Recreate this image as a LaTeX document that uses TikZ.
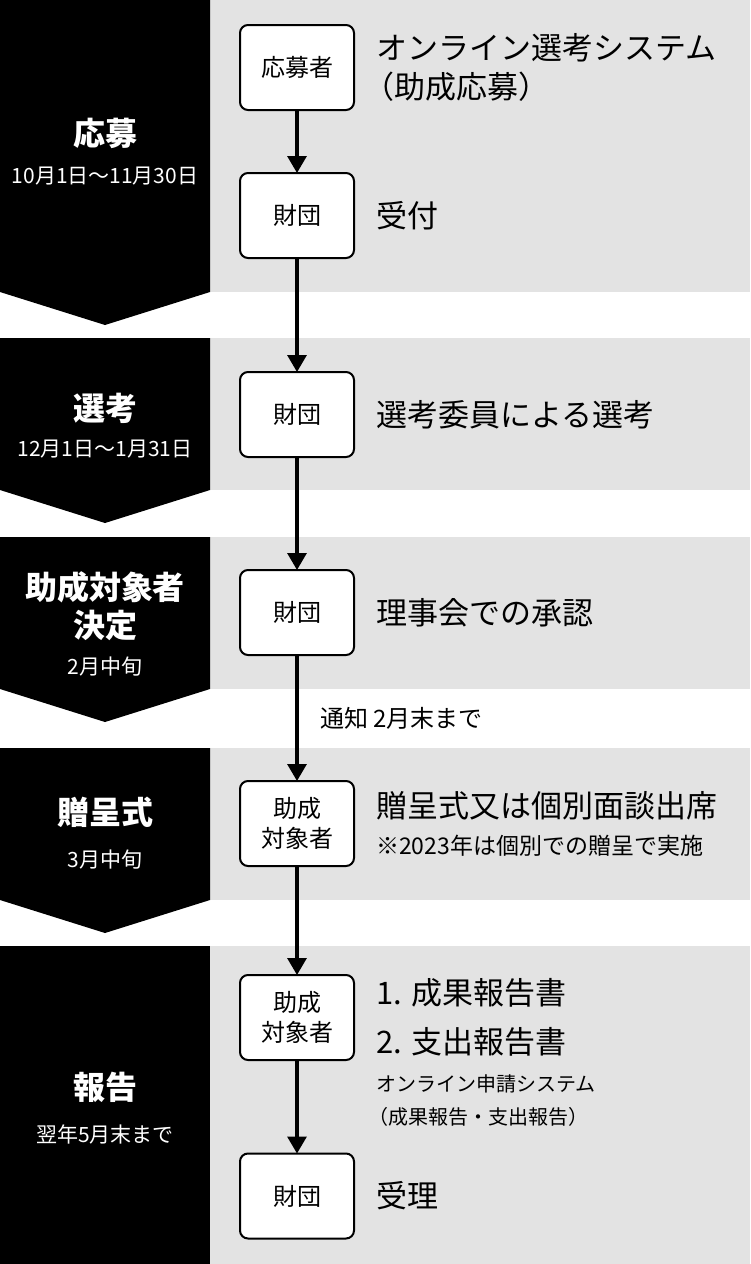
\documentclass[tikz,border=0pt]{standalone}
\usepackage{fontspec}
\usepackage{tikz}
\usepackage{xcolor}
\usetikzlibrary{positioning}
\usetikzlibrary{arrows.meta}
\newfontfamily\jpfont{Noto Sans CJK JP}
\definecolor{bandcolor}{RGB}{227, 227, 227}
\definecolor{stagecolor}{RGB}{0, 0, 0}
\tikzstyle{actor} = [
    draw,
    rounded corners=8pt,
    fill=white,
    line width=2pt,
    minimum width=114pt,
    minimum height=85pt,
    align=center,
    inner sep=0pt,
    outer sep=0pt,
    font=\jpfont\fontsize{24}{30}\selectfont
]
\tikzstyle{flow} = [-{Triangle[length=17pt, width=19pt]}, line width=3.2pt, black]
\tikzstyle{stage} = [text=white, align=center, inner sep=0pt, font=\jpfont\bfseries\fontsize{32}{38}\selectfont]
\tikzstyle{period} = [text=white, inner sep=0pt, font=\jpfont\fontsize{21}{25}\selectfont]
\tikzstyle{task} = [anchor=west, align=left, inner sep=0pt, font=\jpfont\fontsize{31}{39}\selectfont]
\tikzstyle{note} = [anchor=west, align=left, inner sep=0pt, font=\jpfont\fontsize{20}{33}\selectfont]
\tikzstyle{notice} = [anchor=west, inner sep=0pt, font=\jpfont\fontsize{24}{28}\selectfont]

\begin{document}
\begin{tikzpicture}[x=1pt, y=-1pt]
	\useasboundingbox (0,0) rectangle (750,1264);

	%
	% Bands

	\fill[bandcolor] (210,0) rectangle (750,292);
	\fill[bandcolor] (210,338) rectangle (750,490);
	\fill[bandcolor] (210,537) rectangle (750,689);
	\fill[bandcolor] (210,748) rectangle (750,900);
	\fill[bandcolor] (210,946) rectangle (750,1264);

	\fill[stagecolor] (0,0) -- (210,0) -- (210,292) -- (105,325) -- (0,292) -- cycle;
	\fill[stagecolor] (0,338) -- (210,338) -- (210,490) -- (105,523) -- (0,490) -- cycle;
	\fill[stagecolor] (0,537) -- (210,537) -- (210,689) -- (105,722) -- (0,689) -- cycle;
	\fill[stagecolor] (0,748) -- (210,748) -- (210,900) -- (105,933) -- (0,900) -- cycle;
	\fill[stagecolor] (0,946) rectangle (210,1264);

	%
	% Stages

	\node[stage] (s-apply) at (105,133) {応募};
	\node[period, below=18pt of s-apply] (p-apply) {10月1日〜11月30日};
	\node[stage] (s-select) at (105,408) {選考};
	\node[period, below=16pt of s-select] (p-select) {12月1日〜1月31日};
	\node[stage] (s-decide) at (105,606) {助成対象者\\決定};
	\node[period, below=16pt of s-decide] (p-decide) {2月中旬};
	\node[stage] (s-award) at (105,812) {贈呈式};
	\node[period, below=22pt of s-award] (p-award) {3月中旬};
	\node[stage] (s-report) at (105,1087) {報告};
	\node[period, below=22pt of s-report] (p-report) {翌年5月末まで};

	%
	% Actors

	\node[actor] (applicant) at (297,67.5) {応募者};
	\node[actor, below=63pt of applicant] (found1) {財団};
	\node[actor, below=114pt of found1] (found2) {財団};
	\node[actor, below=113pt of found2] (found3) {財団};
	\node[actor, below=126pt of found3] (grantee1) {助成\\対象者};
	\node[actor, below=109pt of grantee1] (grantee2) {助成\\対象者};
	\node[actor, below=93.5pt of grantee2] (found4) {財団};

	% Arrows
	\draw[flow] (applicant) -- (found1);
	\draw[flow] (found1) -- (found2);
	\draw[flow] (found2) -- (found3);
	\draw[flow] (found3) -- (grantee1);
	\draw[flow] (grantee1) -- (grantee2);
	\draw[flow] (grantee2) -- (found4);

	\node[notice] (notify) at (320,718) {通知 2月末まで};

	%
	% Tasks

	\node[task, right=22pt of applicant] (t-apply) {オンライン選考システム\\\hspace*{-0.4em}（助成応募）};
	\node[task, right=22pt of found1] (t-receive) {受付};
	\node[task, right=22pt of found2] (t-select) {選考委員による選考};
	\node[task, right=22pt of found3] (t-approve) {理事会での承認};
	\node[task] (t-award) at (376,806) {贈呈式又は個別面談出席};
	\node[note, font=\jpfont\fontsize{23}{27}\selectfont] (n-award) at (376,846) {※2023年は個別での贈呈で実施};
	\node[task, font=\jpfont\fontsize{31}{49}\selectfont, right=22pt of grantee2] (t-report) {1. 成果報告書\\2. 支出報告書};
	\node[note] (n-report) at (376,1101) {オンライン申請システム\\\hspace*{-0.4em}（成果報告・支出報告）};
	\node[task, right=22pt of found4] (t-accept) {受理};

\end{tikzpicture}
\end{document}
